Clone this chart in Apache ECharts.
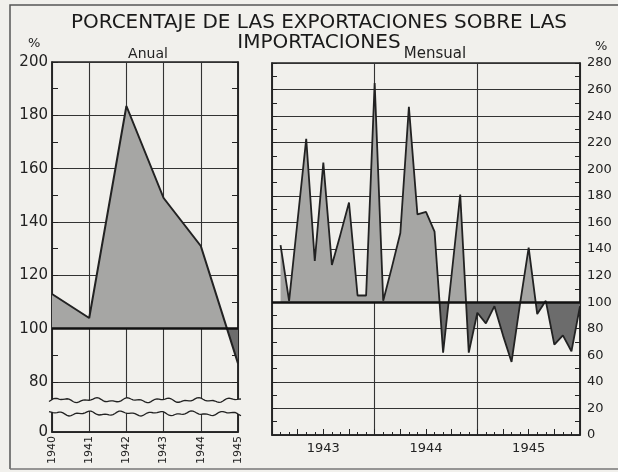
<!DOCTYPE html>
<html><head><meta charset="utf-8">
<script src="https://cdn.jsdelivr.net/npm/echarts@6/dist/echarts.min.js"></script>
<style>html,body{margin:0;padding:0;background:#f1f0ec}#c{width:618px;height:472px}</style>
</head><body><div id="c"></div>
<script>
// ---- data ----
const titleText = 'PORCENTAJE DE LAS EXPORTACIONES SOBRE LAS\nIMPORTACIONES';
const annualYears = [1940, 1941, 1942, 1943, 1944, 1945];
const annualValues = [113, 104, 183.5, 149, 131, 87];
const annualTickLabels = [80, 100, 120, 140, 160, 180, 200];
const annualBreakLabel = '0';
const monthlyYears = ['1943', '1944', '1945'];
const monthlyValues = [
  143, 101, 162, 223, 131, 205, 128, 151, 175, 105, 105, 265,
  101, 126, 152, 247, 166, 168, 153, 62, 121, 181, 62, 92,
  84, 97, 75, 55, 99, 141, 91, 101, 68, 75, 63, 97
];
const baseline = 100;

// ---- chart ----
const FONT = 'DejaVu Sans';
const INK = '#222';
const BG = '#f1f0ec';
const chart = echarts.init(document.getElementById('c'), null, {renderer: 'canvas'});
const annualData = annualYears.map((y, i) => [y, annualValues[i]]);
const monthlyData = monthlyValues.map((v, i) => [i + 1, v]);
const annualMin = 61.25;
const yearCenters = monthlyYears.map((y, i) => i * 12 + 6);

const gridLine = {show: true, lineStyle: {color: '#333', width: 1.1}};
const axisLine = {show: true, onZero: false, lineStyle: {color: INK, width: 1.5}};
const tickIn = (len) => ({show: true, inside: true, length: len, lineStyle: {color: INK, width: 1}});
const minorIn = (len) => ({show: true, splitNumber: 2, length: len, lineStyle: {color: INK, width: 1}});
const baseMark = {
  silent: true, symbol: 'none', label: {show: false},
  lineStyle: {color: '#111', width: 2.6, type: 'solid'},
  data: [{yAxis: baseline}]
};

chart.setOption({
  backgroundColor: BG,
  animation: false,
  textStyle: {fontFamily: FONT, color: INK},
  title: [
    {text: titleText, left: 314, top: 8, textAlign: 'center',
     textStyle: {fontFamily: FONT, fontSize: 20, fontWeight: 'normal', color: '#1a1a1a', lineHeight: 20}},
    {text: 'Anual', left: 143, top: 42, textAlign: 'center',
     textStyle: {fontFamily: FONT, fontSize: 14, fontWeight: 'normal', color: INK}},
    {text: 'Mensual', left: 430, top: 42, textAlign: 'center',
     textStyle: {fontFamily: FONT, fontSize: 15, fontWeight: 'normal', color: INK}}
  ],
  grid: [
    {left: 52, right: 380, top: 62, bottom: 40, show: true, borderColor: INK, borderWidth: 1.5},
    {left: 272, right: 38, top: 63, bottom: 37, show: true, borderColor: INK, borderWidth: 1.5}
  ],
  xAxis: [
    {gridIndex: 0, type: 'value', min: annualYears[0], max: annualYears[annualYears.length - 1], interval: 1,
     axisLine: axisLine, axisTick: {show: false}, splitLine: gridLine,
     axisLabel: {rotate: 90, fontSize: 11, margin: 4, color: INK, formatter: v => String(v)}},
    {gridIndex: 1, type: 'value', min: 0, max: 36, interval: 3,
     axisLine: axisLine, splitLine: {show: false},
     axisTick: tickIn(6),
     minorTick: {show: true, splitNumber: 3, length: 3, lineStyle: {color: INK, width: 1}},
     axisLabel: {customValues: yearCenters, fontSize: 13, margin: 7, color: INK,
                 formatter: v => monthlyYears[Math.round((v - 6) / 12)]}},
    {gridIndex: 1, type: 'value', min: 0, max: 36, interval: 12,
     axisLine: {show: false}, axisTick: {show: false}, axisLabel: {show: false}, splitLine: gridLine}
  ],
  yAxis: [
    {gridIndex: 0, type: 'value', position: 'left', min: annualMin, max: 200, splitNumber: 7,
     axisLine: axisLine, splitLine: gridLine, axisTick: tickIn(6), minorTick: minorIn(6),
     axisLabel: {customValues: [annualMin].concat(annualTickLabels), fontSize: 15, margin: 4, color: INK,
                 formatter: v => v < annualTickLabels[0] ? annualBreakLabel : String(v)}},
    {gridIndex: 0, type: 'value', position: 'right', min: annualMin, max: 200, splitNumber: 7,
     axisLine: axisLine, splitLine: {show: false}, axisLabel: {show: false},
     axisTick: tickIn(6), minorTick: minorIn(6)},
    {gridIndex: 1, type: 'value', position: 'right', min: 0, max: 280, interval: 20,
     axisLine: axisLine, splitLine: gridLine, axisTick: tickIn(5), minorTick: minorIn(5),
     axisLabel: {fontSize: 13, margin: 7, color: INK}},
    {gridIndex: 1, type: 'value', position: 'left', min: 0, max: 280, interval: 20,
     axisLine: axisLine, splitLine: {show: false}, axisLabel: {show: false},
     axisTick: tickIn(5), minorTick: minorIn(5)}
  ],
  visualMap: [{
    type: 'piecewise', show: false, dimension: 1, seriesIndex: [0, 2],
    pieces: [{gte: 0, lte: baseline, color: '#6c6c6c'}, {gt: baseline, lte: 300, color: '#a6a6a4'}]
  }],
  series: [
    {type: 'line', xAxisIndex: 0, yAxisIndex: 0, data: annualData, showSymbol: false, silent: true,
     lineStyle: {width: 0}, areaStyle: {origin: baseline, opacity: 1}, z: 2},
    {type: 'line', xAxisIndex: 0, yAxisIndex: 0, data: annualData, showSymbol: false, silent: true,
     lineStyle: {width: 2, color: '#222'}, markLine: baseMark, z: 3},
    {type: 'line', xAxisIndex: 1, yAxisIndex: 2, data: monthlyData, showSymbol: false, silent: true,
     lineStyle: {width: 0}, areaStyle: {origin: baseline, opacity: 1}, z: 2},
    {type: 'line', xAxisIndex: 1, yAxisIndex: 2, data: monthlyData, showSymbol: false, silent: true,
     lineStyle: {width: 1.8, color: '#222'}, markLine: baseMark, z: 3}
  ]
});

// decorative axis-break waves and the frame
const p0 = chart.convertToPixel({xAxisIndex: 0, yAxisIndex: 0}, [annualYears[0], 73.2]);
const p1 = chart.convertToPixel({xAxisIndex: 0, yAxisIndex: 0}, [annualYears[annualYears.length - 1], 68.2]);
const x0 = p0[0] - 3, x1 = p1[0] + 3;
function wave(yBase, phase) {
  const pts = [];
  for (let x = x0; x <= x1; x += 2) {
    pts.push([x, yBase + 1.6 * Math.sin((x + phase) / 5.5) + 1.0 * Math.sin((x + phase) / 2.3)]);
  }
  return pts;
}
const upper = wave(p0[1], 0), lower = wave(p1[1], 7);
chart.setOption({
  graphic: [
    {type: 'polygon', z: 100, shape: {points: upper.concat(lower.slice().reverse())},
     style: {fill: BG, stroke: null}},
    {type: 'polyline', z: 101, shape: {points: upper}, style: {stroke: INK, lineWidth: 1.3, fill: null}},
    {type: 'polyline', z: 101, shape: {points: lower}, style: {stroke: INK, lineWidth: 1.3, fill: null}},
    {type: 'text', z: 101, left: 28, top: 37, style: {text: '%', font: '13px "DejaVu Sans"', fill: INK}},
    {type: 'text', z: 101, left: 595, top: 40, style: {text: '%', font: '13px "DejaVu Sans"', fill: INK}},
    {type: 'polyline', z: 101, shape: {points: [[10, 469], [10, 5], [618, 5]]},
     style: {stroke: '#555', lineWidth: 1.5, fill: null}},
    {type: 'line', z: 101, shape: {x1: 10, y1: 469, x2: 618, y2: 469},
     style: {stroke: '#777', lineWidth: 1.5}}
  ]
});
</script></body></html>
